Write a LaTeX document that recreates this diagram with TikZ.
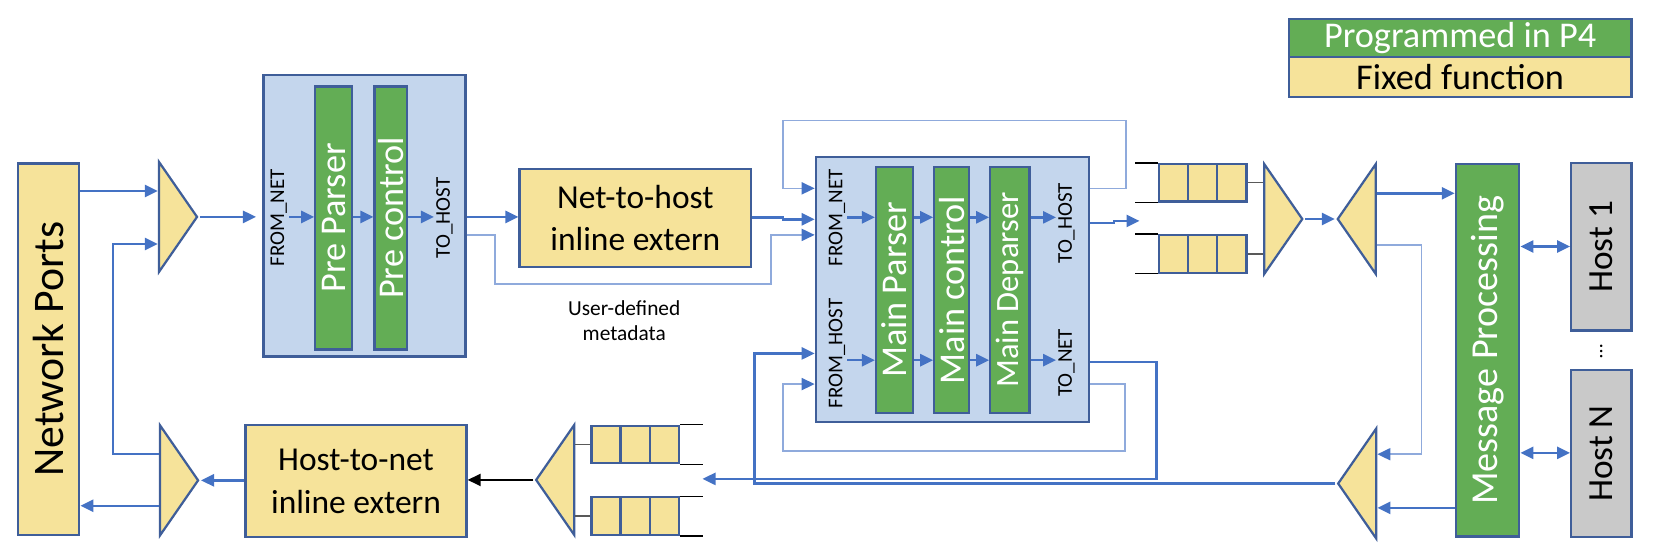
\documentclass[tikz,border=0pt]{standalone}
\usepackage{fontspec}
\setmainfont{Carlito}
\usetikzlibrary{shapes.geometric, arrows.meta}
\usetikzlibrary{positioning}
\definecolor{flowblue}{HTML}{4472C4}
\definecolor{paleblue}{HTML}{8FAADC}
\definecolor{edgeblue}{HTML}{3F5E99}
\definecolor{fixedyellow}{HTML}{F6E39A}
\definecolor{ptgreen}{HTML}{63AD55}
\definecolor{blockblue}{HTML}{C4D6ED}
\definecolor{hostgray}{HTML}{C9C9C9}

\begin{document}
\begin{tikzpicture}[x=0.02cm, y=-0.02cm, align=center, inner sep=0pt]

\tikzstyle{fixedfn} = [rectangle, draw=edgeblue, line width=1.2pt, fill=fixedyellow, font=\fontsize{18}{23}\selectfont]
\tikzstyle{legend} = [fixedfn, minimum width=6.48cm, font=\fontsize{19.5}{23}\selectfont]
\tikzstyle{ptblock} = [rectangle, draw=edgeblue, line width=1.2pt, fill=ptgreen, text=white, rotate=90, font=\fontsize{19.5}{23}\selectfont]
\tikzstyle{stage} = [rectangle, draw=edgeblue, line width=1.2pt, fill=blockblue]
\tikzstyle{hostblk} = [rectangle, draw=edgeblue, line width=1.2pt, fill=hostgray, rotate=90, font=\fontsize{19}{23}\selectfont]
\tikzstyle{mux} = [isosceles triangle, isosceles triangle stretches, draw=edgeblue, line width=1.2pt, fill=fixedyellow, minimum width=2.08cm, minimum height=0.72cm]
\tikzstyle{qcell} = [rectangle, draw=edgeblue, line width=1.2pt, fill=fixedyellow, minimum width=0.55cm, minimum height=0.71cm]
\tikzstyle{portlbl} = [rotate=90, inner sep=1pt, font=\fontsize{11.3}{13}\selectfont]
\tikzstyle{arrow} = [draw=flowblue, line width=1.3pt, -{Triangle[length=7pt, width=6.5pt]}]
\tikzstyle{lightarrow} = [draw=paleblue, line width=0.9pt, -{Triangle[length=7pt, width=6.5pt, color=flowblue]}]
\tikzstyle{duplex} = [draw=flowblue, line width=1.3pt, {Triangle[length=7pt, width=6.5pt]}-{Triangle[length=7pt, width=6.5pt]}]
\tikzstyle{blackarrow} = [draw=black, line width=1.3pt, -{Triangle[length=7pt, width=6.5pt]}]
\tikzstyle{qline} = [draw=black!65, line width=0.7pt]
\tikzstyle{tube} = [draw=black, line width=0.7pt]

\useasboundingbox (0,0) rectangle (1568,525);

\node (legp4) [legend, fill=ptgreen, text=white, minimum height=0.72cm] at (1380,36) {Programmed in P4};
\node (legfix) [legend, minimum height=0.76cm, below=-1.2pt of legp4] {Fixed function};

\node (netports) [fixedfn, rotate=90, minimum width=7.02cm, minimum height=1.16cm, font=\fontsize{23.5}{28}\selectfont] at (46,330) {Network Ports};
\node (mux1) [mux, anchor=apex] at (189,205) {};
\node (mux2) [mux, anchor=apex] at (190,454) {};

\node (prebox) [stage, minimum width=3.82cm, minimum height=5.32cm] at (344.5,204) {};
\node (preparser) [ptblock, minimum width=4.97cm, minimum height=0.70cm] at (315.5,206) {Pre Parser};
\node (precontrol) [ptblock, minimum width=4.97cm, minimum height=0.62cm] at (369.5,206) {Pre control};
\node (fromnet1) [portlbl] at (263.5,206) {FROM\_NET};
\node (tohost1) [portlbl] at (420,206) {TO\_HOST};

\node (n2h) [fixedfn, minimum width=4.38cm, minimum height=1.84cm] at (600.5,206) {Net-to-host\\inline extern};
\node (meta) [font=\fontsize{11.5}{13.4}\selectfont] at (590,303) {User-defined\\metadata};

\node (mainbox) [stage, minimum width=5.16cm, minimum height=5.02cm] at (900,273.5) {};
\node (mainparser) [ptblock, minimum width=4.64cm, minimum height=0.70cm] at (845.5,274) {Main Parser};
\node (maincontrol) [ptblock, minimum width=4.64cm, minimum height=0.66cm] at (899.5,274) {Main control};
\node (maindeparser) [ptblock, minimum width=4.64cm, minimum height=0.74cm, font=\fontsize{17.5}{21}\selectfont] at (954.5,274) {Main Deparser};
\node (fromnet2) [portlbl] at (791,206) {FROM\_NET};
\node (fromhost) [portlbl] at (791,334) {FROM\_HOST};
\node (tohost2) [portlbl] at (1008,211) {TO\_HOST};
\node (tonet) [portlbl] at (1008,343) {TO\_NET};

\node (qa1) [qcell] at (1109.3,172.8) {};
\node (qa2) [qcell, right=-1.2pt of qa1] {};
\node (qa3) [qcell, right=-1.2pt of qa2] {};
\node (qb1) [qcell] at (1109.3,240) {};
\node (qb2) [qcell, right=-1.2pt of qb1] {};
\node (qb3) [qcell, right=-1.2pt of qb2] {};
\node (mux4) [mux, anchor=apex] at (1233.6,207) {};
\node (demux5) [mux, shape border rotate=180, anchor=apex] at (1261.6,207) {};
\node (mux6) [mux, shape border rotate=180, anchor=apex] at (1262,457) {};

\node (mp) [ptblock, minimum width=7.04cm, minimum height=1.2cm, font=\fontsize{20.5}{24}\selectfont] at (1406,331) {Message Processing};
\node (host1) [hostblk, minimum width=3.17cm, minimum height=1.14cm] at (1513.5,233.2) {Host 1};
\node (hostn) [hostblk, minimum width=3.16cm, minimum height=1.14cm] at (1513.5,428.6) {Host N};
\node (hdots) [rotate=90, font=\fontsize{11}{13}\selectfont] at (1513.5,332) {\dots};

\node (qc1) [qcell] at (572.8,420.2) {};
\node (qc2) [qcell, right=-1.2pt of qc1] {};
\node (qc3) [qcell, right=-1.2pt of qc2] {};
\node (qd1) [qcell] at (572.8,487.8) {};
\node (qd2) [qcell, right=-1.2pt of qd1] {};
\node (qd3) [qcell, right=-1.2pt of qd2] {};
\node (demux7) [mux, shape border rotate=180, anchor=apex] at (504,453.6) {};
\node (h2n) [fixedfn, minimum width=4.18cm, minimum height=2.11cm] at (336.5,454.7) {Host-to-net\\inline extern};

\coordinate (qin) at (1077,208.8);
\coordinate (qout) at (664,452.6);

\draw [arrow] (netports.south |- 0,180.5) -- (mux1.lower side |- 0,180.5);
\draw [arrow] (mux2.lower side |- 0,429) -| (107,230.6) -- (mux1.lower side |- 0,230.6);
\draw [arrow, shorten >=0.12cm] (mux1.apex) -- (prebox.west |- mux1.apex);
\draw [arrow] (fromnet1.south |- 0,205) -- (preparser.north |- 0,205);
\draw [arrow] (preparser.south |- 0,205) -- (precontrol.north |- 0,205);
\draw [arrow] (precontrol.south |- 0,205) -- (tohost1.north |- 0,205);
\draw [arrow] (prebox.east |- 0,205) -- (n2h.west |- 0,205);
\draw [lightarrow] (prebox.east |- 0,222) -| (468,268.5) -| (729,222) -- (mainbox.west |- 0,222);
\draw [arrow] (n2h.east |- 0,205.4) -| (740,207.3) -- (mainbox.west |- 0,207.3);
\draw [lightarrow] (mainbox.east |- 0,178) -| (1064,114) -| (740,178) -- (mainbox.west |- 0,178);

\draw [arrow] (fromnet2.south |- 0,205.4) -- (mainparser.north |- 0,205.4);
\draw [arrow] (mainparser.south |- 0,205.4) -- (maincontrol.north |- 0,205.4);
\draw [arrow] (maincontrol.south |- 0,205.4) -- (maindeparser.north |- 0,205.4);
\draw [arrow] (maindeparser.south |- 0,205.4) -- (tohost2.north |- 0,205.4);
\draw [arrow] (fromhost.south |- 0,340.4) -- (mainparser.north |- 0,340.4);
\draw [arrow] (mainparser.south |- 0,340.4) -- (maincontrol.north |- 0,340.4);
\draw [arrow] (maincontrol.south |- 0,340.4) -- (maindeparser.north |- 0,340.4);
\draw [arrow] (maindeparser.south |- 0,340.4) -- (tonet.north |- 0,340.4);

\draw [arrow] (mainbox.east |- 0,211) -| (1053,208.8) -- (qin);
\draw [arrow] (mainbox.east |- 0,342) -| (1093,452.6) -- (qout);
\draw [lightarrow] (mainbox.east |- 0,363) -| (1063,426) -| (740,363) -- (mainbox.west |- 0,363);
\draw [arrow] (mux6.apex) -| (713,334) -- (mainbox.west |- 0,334);

\draw [tube] (qa1.north west) -- ++(-22,0);
\draw [tube] (qa1.south west) -- ++(-22,0);
\draw [tube] (qb1.north west) -- ++(-22,0);
\draw [tube] (qb1.south west) -- ++(-22,0);
\draw [tube] (qc3.north east) -- ++(22,0);
\draw [tube] (qc3.south east) -- ++(22,0);
\draw [tube] (qd3.north east) -- ++(22,0);
\draw [tube] (qd3.south east) -- ++(22,0);
\draw [qline] (qa3.east) -- (mux4.lower side |- qa3.east);
\draw [qline] (qb3.east) -- (mux4.lower side |- qb3.east);
\draw [qline] (qc1.west) -- (demux7.lower side |- qc1.west);
\draw [qline] (qd1.west) -- (demux7.lower side |- qd1.west);

\draw [arrow] (mux4.apex) -- (demux5.apex);
\draw [arrow] (demux5.lower side |- 0,182.7) -- (mp.north |- 0,182.7);
\draw [lightarrow] (demux5.lower side |- 0,231.8) -| (1343.5,429.3) -- (mux6.lower side |- 0,429.3);
\draw [arrow] (mp.north |- 0,480) -- (mux6.lower side |- 0,480);
\draw [duplex] (mp.south |- 0,233) -- (host1.north |- 0,233);
\draw [duplex] (mp.south |- 0,428) -- (hostn.north |- 0,428);

\draw [blackarrow] (demux7.apex) -- (h2n.east |- demux7.apex);
\draw [arrow] (h2n.west |- mux2.apex) -- (mux2.apex);
\draw [arrow] (mux2.lower side |- 0,478) -- (netports.south |- 0,478);
\end{tikzpicture}
\end{document}
